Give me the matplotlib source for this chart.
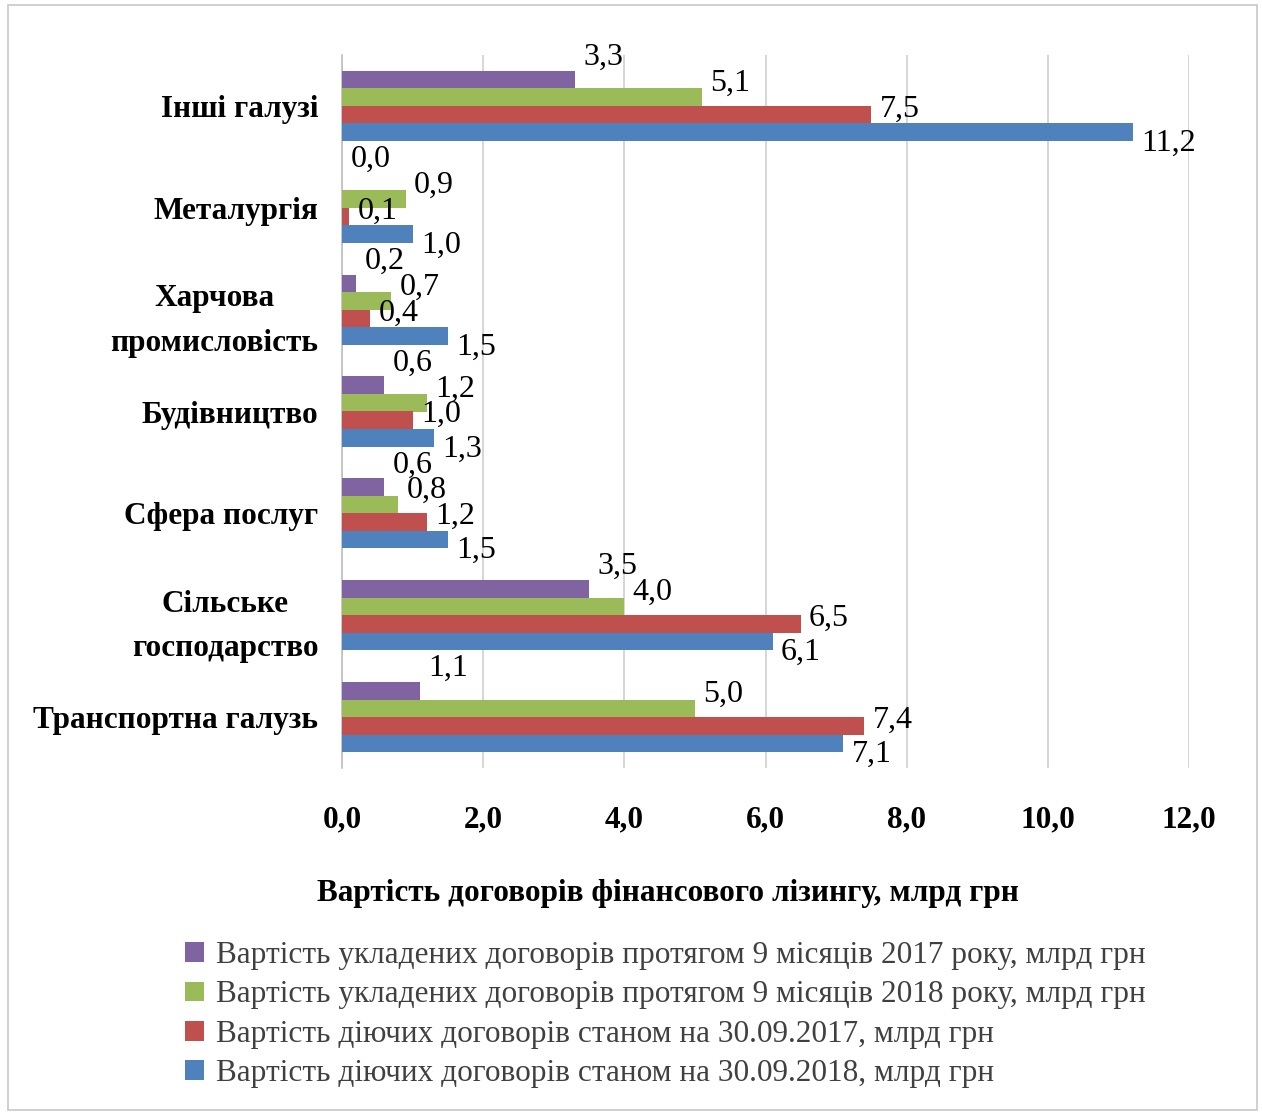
import matplotlib
matplotlib.use("Agg")
import matplotlib.pyplot as plt
from matplotlib.patches import Rectangle, Patch
import numpy as np

plt.rcParams['font.family'] = ['Liberation Serif', 'DejaVu Serif']

# categories, bottom to top
categories = ["Транспортна галузь", "Сільське\nгосподарство", "Сфера послуг",
              "Будівництво", "Харчова\nпромисловість", "Металургія", "Інші галузі"]

# series values, млрд грн
signed_2017 = [1.1, 3.5, 0.6, 0.6, 0.2, 0.0, 3.3]
signed_2018 = [5.0, 4.0, 0.8, 1.2, 0.7, 0.9, 5.1]
active_2017 = [7.4, 6.5, 1.2, 1.0, 0.4, 0.1, 7.5]
active_2018 = [7.1, 6.1, 1.5, 1.3, 1.5, 1.0, 11.2]

series_names = [
    "Вартість укладених договорів протягом 9 місяців 2017 року, млрд грн",
    "Вартість укладених договорів протягом 9 місяців 2018 року, млрд грн",
    "Вартість діючих договорів станом на 30.09.2017, млрд грн",
    "Вартість діючих договорів станом на 30.09.2018, млрд грн",
]
series_values = [signed_2017, signed_2018, active_2017, active_2018]
colors = ["#8064A2", "#9BBB59", "#C0504D", "#4F81BD"]
label_dy = [16, 10, 4, -8]  # points, label shift relative to bar centre

fig = plt.figure(figsize=(12.62, 11.15), dpi=100)
ax = fig.add_axes([342/1262, 1 - 768/1115, (1189 - 342)/1262, (768 - 55)/1115])

y = np.arange(len(categories))
h = 0.172
offsets = [1.5 * h, 0.5 * h, -0.5 * h, -1.5 * h]

for vals, col, off, dy in zip(series_values, colors, offsets, label_dy):
    ax.barh(y + off, vals, height=h, color=col, zorder=3)
    for yi, v in zip(y, vals):
        ax.annotate(f"{v:.1f}".replace(".", ","), (v, yi + off),
                    xytext=(6, dy), textcoords="offset points",
                    ha="left", va="center", fontsize=23, color="#000000")

ax.set_xlim(0, 12)
ax.set_ylim(-0.5, len(categories) - 0.5)
ticks = np.arange(0, 12.1, 2)
ax.set_xticks(ticks)
ax.set_xticklabels([f"{t:.1f}".replace(".", ",") for t in ticks],
                   fontsize=22.5, fontweight="bold")
ax.set_yticks(y)
ax.set_yticklabels(categories, fontsize=22.5, fontweight="bold",
                   multialignment="center", linespacing=1.7)
ax.tick_params(axis="x", length=0, pad=27)
ax.tick_params(axis="y", length=0, pad=17)
ax.grid(axis="x", color="#D0D0D0", linewidth=1.2, zorder=0)
for s in ["top", "right", "bottom"]:
    ax.spines[s].set_visible(False)
ax.spines["left"].set_color("#BFBFBF")
ax.spines["left"].set_linewidth(1.2)

fig.text(668/1262, 1 - 893/1115, "Вартість договорів фінансового лізингу, млрд грн",
         ha="center", va="center", fontsize=22.5, fontweight="bold")

handles = [Patch(facecolor=c, edgecolor="none") for c in colors]
fig.legend(handles, series_names, loc="upper left",
           bbox_to_anchor=(157/1262, 1 - 913/1115), frameon=False,
           fontsize=22.5, handlelength=0.6, handleheight=0.6, handletextpad=0.4,
           labelspacing=0.33, labelcolor="#404040")

fig.patches.append(Rectangle((8/1262, 5/1115), 1249/1262, 1105/1115,
                             transform=fig.transFigure, fill=False,
                             edgecolor="#C8C8C8", linewidth=1.2))

fig.savefig("out.png", dpi=100)
